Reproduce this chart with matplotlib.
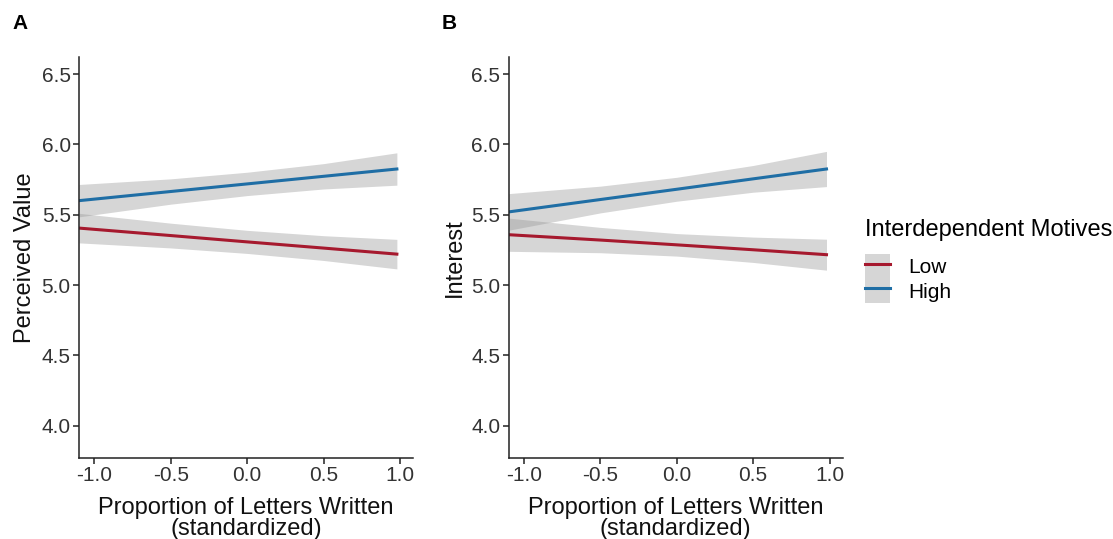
import matplotlib.pyplot as plt
from matplotlib.patches import Patch
from matplotlib.lines import Line2D

plt.rcParams['font.family'] = ['Liberation Sans', 'DejaVu Sans']

# x positions where the fitted lines / bands were read
x = [-1.1, -0.5, 0.0, 0.5, 0.98]

# panel A: Perceived Value
a_low = [5.405, 5.352, 5.307, 5.263, 5.22]
a_low_half = [0.105, 0.088, 0.082, 0.088, 0.105]
a_high = [5.60, 5.665, 5.719, 5.773, 5.825]
a_high_half = [0.115, 0.09, 0.083, 0.09, 0.115]

# panel B: Interest
b_low = [5.358, 5.32, 5.286, 5.251, 5.216]
b_low_half = [0.118, 0.09, 0.08, 0.09, 0.11]
b_high = [5.52, 5.608, 5.681, 5.755, 5.825]
b_high_half = [0.13, 0.095, 0.085, 0.095, 0.125]

xticks = [-1.0, -0.5, 0.0, 0.5, 1.0]
yticks = [4.0, 4.5, 5.0, 5.5, 6.0, 6.5]

red = '#A6192E'
blue = '#1F6EA5'

fig = plt.figure(figsize=(11.13, 5.39), dpi=100)
axA = fig.add_axes([0.071, 0.150, 0.300, 0.744])
axB = fig.add_axes([0.457, 0.150, 0.300, 0.744])


def panel(ax, low, low_half, high, high_half, ylabel, letter):
    for mid, half, col in [(low, low_half, red), (high, high_half, blue)]:
        lo = [m - h for m, h in zip(mid, half)]
        hi = [m + h for m, h in zip(mid, half)]
        ax.fill_between(x, lo, hi, color='0.6', alpha=0.4, lw=0)
        ax.plot(x, mid, color=col, lw=2.2)
    ax.set_xlim(-1.1, 1.085)
    ax.set_ylim(3.77, 6.62)
    ax.set_xticks(xticks)
    ax.set_xticklabels(['-1.0', '-0.5', '0.0', '0.5', '1.0'])
    ax.set_yticks(yticks)
    ax.set_yticklabels(['4.0', '4.5', '5.0', '5.5', '6.0', '6.5'])
    for s in ['top', 'right']:
        ax.spines[s].set_visible(False)
    for s in ['left', 'bottom']:
        ax.spines[s].set_linewidth(1.1)
        ax.spines[s].set_color('#222222')
    ax.tick_params(length=4, width=1.1, color='#222222', labelsize=15,
                   labelcolor='#333333', pad=2)
    ax.set_xlabel('Proportion of Letters Written\n(standardized)', fontsize=17,
                  color='#111111', labelpad=8, linespacing=0.95)
    ax.set_ylabel(ylabel, fontsize=17, color='#111111', labelpad=4)
    ax.text(-0.2, 1.085, letter, transform=ax.transAxes, fontsize=15,
            fontweight='bold', va='center', ha='left')


panel(axA, a_low, a_low_half, a_high, a_high_half, 'Perceived Value', 'A')
panel(axB, b_low, b_low_half, b_high, b_high_half, 'Interest', 'B')

handles = [
    (Patch(facecolor='0.6', alpha=0.4, lw=0), Line2D([], [], color=red, lw=2.2)),
    (Patch(facecolor='0.6', alpha=0.4, lw=0), Line2D([], [], color=blue, lw=2.2)),
]
leg = fig.legend(handles, ['Low', 'High'], title='Interdependent Motives',
                 loc='upper left', bbox_to_anchor=(0.777, 0.593),
                 frameon=False, fontsize=15, title_fontsize=17,
                 handlelength=1.2, handleheight=1.45, labelspacing=0.0,
                 handletextpad=0.9, borderaxespad=0, borderpad=0)
leg._legend_box.align = 'left'
leg._legend_box.sep = 9

fig.savefig('out.png', dpi=100)
